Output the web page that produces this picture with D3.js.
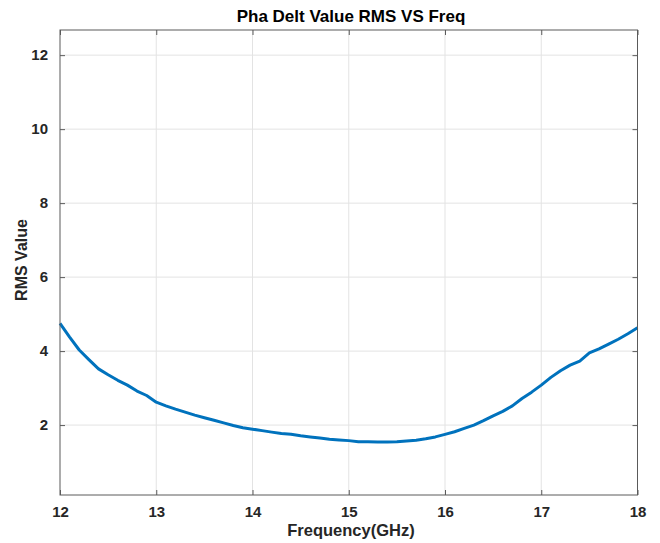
<!DOCTYPE html>
<html>
<head>
<meta charset="utf-8">
<script src="https://cdn.jsdelivr.net/npm/d3@7"></script>
<style>
  body { margin: 0; background: #fff; }
  svg { display: block; font-family: "Liberation Sans", Arial, sans-serif; }
</style>
</head>
<body>
<svg width="660" height="543"></svg>
<script>
// frequency sweep, GHz
const freq = d3.range(61).map(i => +(12 + i * 0.1).toFixed(1));

// RMS of phase delta at each frequency
const rmsValue = [
    4.75, 4.38, 4.03, 3.77, 3.52, 3.36, 3.21, 3.08, 2.92, 2.80,
    2.62, 2.52, 2.43, 2.35, 2.27, 2.20, 2.13, 2.06, 1.99, 1.93,
    1.89, 1.85, 1.81, 1.77, 1.75, 1.71, 1.68, 1.65, 1.62, 1.60,
    1.58, 1.55, 1.55, 1.54, 1.54, 1.55, 1.57, 1.59, 1.63, 1.68,
    1.75, 1.82, 1.91, 2.00, 2.12, 2.25, 2.37, 2.52, 2.72, 2.89,
    3.08, 3.29, 3.47, 3.62, 3.73, 3.95, 4.06, 4.19, 4.32, 4.47,
    4.63
];

const xTicks = [12, 13, 14, 15, 16, 17, 18];
const yTicks = [2, 4, 6, 8, 10, 12];

const attr = {
    left: 60,
    right: 637.5,
    top: 30,
    bottom: 495
};

const svg = d3.select("svg");

const scX = d3.scaleLinear()
    .domain([12, 18])
    .range([attr.left, attr.right]);

const scY = d3.scaleLinear()
    .domain([0.11, 12.68])
    .range([attr.bottom, attr.top]);

const w = attr.right - attr.left;
const h = attr.bottom - attr.top;

// grid
const grid = svg.append("g")
    .attr("stroke", "#e3e3e3")
    .attr("stroke-width", 1);

grid.selectAll(".gx")
    .data(xTicks.slice(1, -1))
    .enter()
    .append("line")
    .attr("x1", d => scX(d))
    .attr("x2", d => scX(d))
    .attr("y1", attr.top)
    .attr("y2", attr.bottom);

grid.selectAll(".gy")
    .data(yTicks)
    .enter()
    .append("line")
    .attr("x1", attr.left)
    .attr("x2", attr.right)
    .attr("y1", d => scY(d))
    .attr("y2", d => scY(d));

// curve
const line = d3.line()
    .x((d, i) => scX(freq[i]))
    .y(d => scY(d));

svg.append("path")
    .datum(rmsValue)
    .attr("fill", "none")
    .attr("stroke", "#0072BD")
    .attr("stroke-width", 3)
    .attr("stroke-linejoin", "round")
    .attr("d", line);

// axes with inward ticks on all four sides
const axisColor = "#5a5a5a";
const tickFont = g => g.selectAll("text")
    .attr("fill", "#262626")
    .style("font-size", "15px")
    .style("font-weight", "bold");

const styleAxis = g => {
    g.select(".domain").remove();
    g.selectAll(".tick line").attr("stroke", axisColor);
};

svg.append("g")
    .attr("transform", `translate(0,${attr.bottom})`)
    .call(d3.axisBottom(scX).tickValues(xTicks).tickFormat(d3.format("d"))
        .tickSizeInner(-5).tickPadding(11))
    .call(styleAxis)
    .call(tickFont);

svg.append("g")
    .attr("transform", `translate(0,${attr.top})`)
    .call(d3.axisTop(scX).tickValues(xTicks).tickSizeInner(-5).tickFormat(""))
    .call(styleAxis);

svg.append("g")
    .attr("transform", `translate(${attr.left},0)`)
    .call(d3.axisLeft(scY).tickValues(yTicks).tickSizeInner(-5).tickPadding(12))
    .call(styleAxis)
    .call(tickFont);

svg.append("g")
    .attr("transform", `translate(${attr.right},0)`)
    .call(d3.axisRight(scY).tickValues(yTicks).tickSizeInner(-5).tickFormat(""))
    .call(styleAxis);

svg.append("rect")
    .attr("x", attr.left)
    .attr("y", attr.top)
    .attr("width", w)
    .attr("height", h)
    .attr("fill", "none")
    .attr("stroke", axisColor)
    .attr("stroke-width", 1);

// titles
svg.append("text")
    .attr("x", 351)
    .attr("y", 22)
    .attr("text-anchor", "middle")
    .attr("fill", "#000")
    .style("font-size", "17px")
    .style("font-weight", "bold")
    .text("Pha Delt Value RMS VS Freq");

svg.append("text")
    .attr("x", 351)
    .attr("y", 535.5)
    .attr("text-anchor", "middle")
    .attr("fill", "#262626")
    .style("font-size", "16.5px")
    .style("font-weight", "bold")
    .text("Frequency(GHz)");

svg.append("text")
    .attr("transform", "translate(27,260) rotate(-90)")
    .attr("text-anchor", "middle")
    .attr("fill", "#262626")
    .style("font-size", "16px")
    .style("font-weight", "bold")
    .text("RMS Value");
</script>
</body>
</html>
